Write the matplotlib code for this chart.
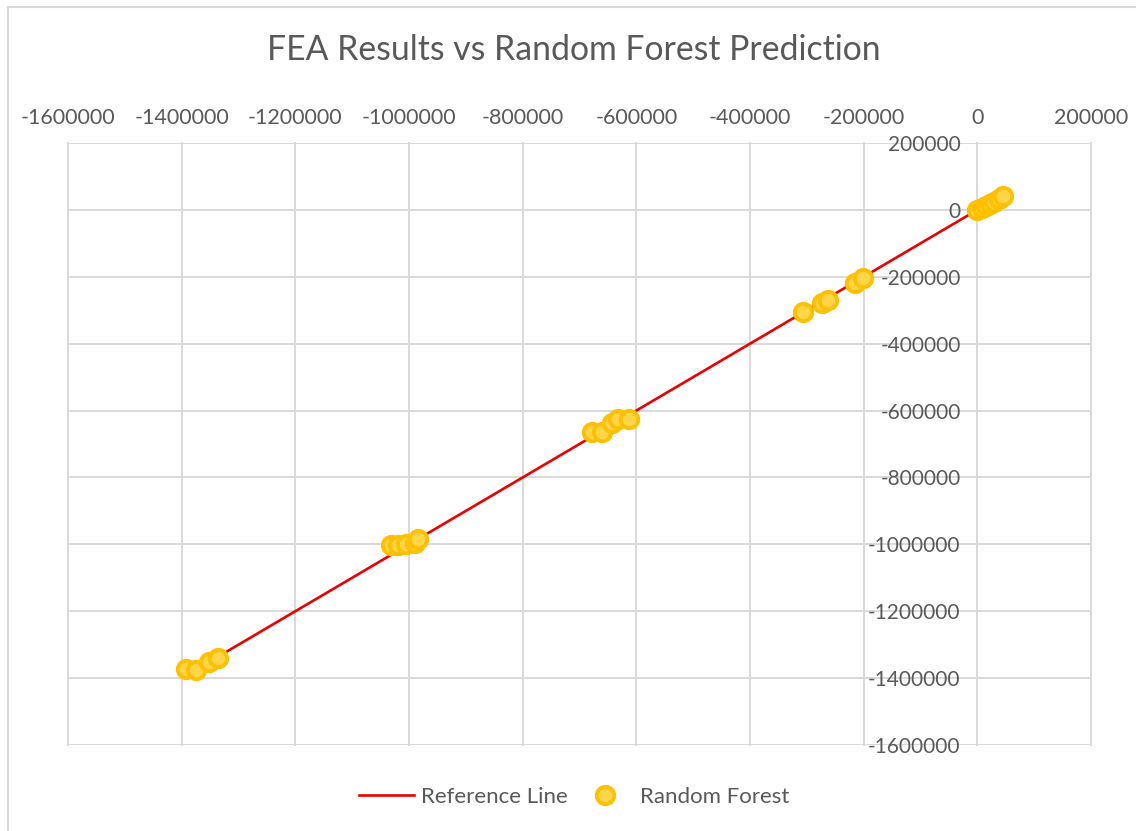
import matplotlib
matplotlib.use("Agg")
import matplotlib.pyplot as plt
from matplotlib.lines import Line2D

plt.rcParams['font.family'] = ['Lato', 'DejaVu Sans']

# FEA result (x) vs Random Forest prediction (y)
fea = [-1393000, -1375600, -1352700, -1336900,
       -1032500, -1018500, -1006000, -990300, -983300,
       -677200, -659600, -642000, -631500, -612100,
       -306000, -272600, -262100, -214600, -200500,
       0, 8000, 15000, 22000, 30000, 38000, 45000]
rf_pred = [-1372000, -1375000, -1351000, -1339000,
           -1001500, -1001500, -1000000, -997000, -985000,
           -663700, -663700, -636800, -624800, -624800,
           -305000, -278000, -269000, -218000, -203000,
           0, 6000, 12000, 18000, 25000, 33000, 42000]

ref_line = [min(fea), max(fea)]
ticks = list(range(-1600000, 200001, 200000))
tick_labels = [str(t) for t in ticks]

text_color = '#595959'
grid_color = '#D9D9D9'

fig = plt.figure(figsize=(11.36, 8.31), dpi=100)
ax = fig.add_axes([68 / 1136, 1 - 745 / 831, (1091 - 68) / 1136, (745 - 143) / 831])

ax.plot(ref_line, ref_line, color='#EE0000', lw=1.9, zorder=3, label='Reference Line')
ax.plot(fea, rf_pred, linestyle='none', marker='o', markersize=12.5,
        markerfacecolor='#FFD54A', markeredgecolor='#FFC000', markeredgewidth=2.8,
        zorder=4, label='Random Forest')

ax.set_xlim(-1600000, 200000)
ax.set_ylim(-1600000, 200000)
ax.set_xticks(ticks)
ax.set_yticks(ticks)
ax.set_xticklabels(tick_labels)
ax.set_yticklabels(tick_labels)

ax.grid(True, color=grid_color, lw=1.4)
ax.set_axisbelow(True)
for gl in ax.get_xgridlines() + ax.get_ygridlines():
    gl.set_clip_on(False)

for side in ('top', 'right', 'bottom'):
    ax.spines[side].set_visible(False)
ax.spines['left'].set_position(('data', 0))
ax.spines['left'].set_color(grid_color)
ax.spines['left'].set_linewidth(1.4)

ax.xaxis.set_ticks_position('top')
ax.tick_params(axis='x', length=0, pad=11, labelsize=15.5, labelcolor=text_color)
ax.tick_params(axis='y', length=0, pad=12, labelsize=15, labelcolor=text_color)

fig.text(574 / 1136, 1 - 50 / 831, 'FEA Results vs Random Forest Prediction',
         ha='center', va='center', fontsize=24.3, color=text_color)

leg = fig.legend(loc='center', bbox_to_anchor=(574 / 1136, 1 - 797 / 831), ncol=2,
                 frameon=False, fontsize=16, handlelength=2.5, columnspacing=0.4,
                 handletextpad=0.33)
for t in leg.get_texts():
    t.set_color(text_color)

# chart frame
fig.add_artist(Line2D([8 / 1136, 8 / 1136], [0, 1 - 7 / 831], color=grid_color, lw=1.5,
                      transform=fig.transFigure))
fig.add_artist(Line2D([8 / 1136, 1], [1 - 7 / 831, 1 - 7 / 831], color=grid_color, lw=1.5,
                      transform=fig.transFigure))

fig.savefig('out.png', dpi=100, facecolor='white')
